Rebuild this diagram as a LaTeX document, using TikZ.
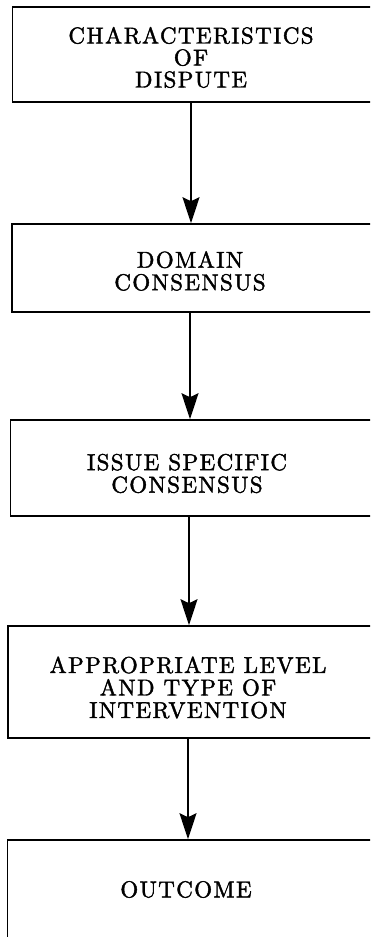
\documentclass[tikz,border=0pt]{standalone}
\usepackage{fontspec}
\newfontfamily\boxfont[LetterSpace=6, FakeBold=1.8]{lmroman10-regular.otf}
\usetikzlibrary{arrows.meta}
\tikzset{
  boxframe/.style={draw, line width=1.6pt, rectangle, inner sep=0pt},
  boxtext/.style={align=center, inner sep=0pt,
    font=\boxfont\fontsize{23}{22.5}\selectfont},
  flow/.style={line width=1.6pt, -{Stealth[length=26pt, width=17pt, inset=4pt]}}
}
\begin{document}
\begin{tikzpicture}[x=1pt, y=-1pt]
\useasboundingbox (0,0) rectangle (370,937);
\clip (0,0) rectangle (370,937);
% boxes (right side runs past the picture edge)
\node[boxframe, minimum width=367.5pt, minimum height=95pt] (box1) at ({(12.5+380)/2},{(7+102)/2}) {};
\node[boxframe, minimum width=368pt, minimum height=88pt] (box2) at ({(12+380)/2},{(224+312)/2}) {};
\node[boxframe, minimum width=369.5pt, minimum height=96pt] (box3) at ({(10.5+380)/2},{(420+516)/2}) {};
\node[boxframe, minimum width=372pt, minimum height=112pt] (box4) at ({(8+380)/2},{(626+738)/2}) {};
\node[boxframe, minimum width=372.5pt, minimum height=110pt] (box5) at ({(7.5+380)/2},{(840+950)/2}) {};
% texts
\node[boxtext, font=\boxfont\fontsize{23}{22}\selectfont] (t1) at (191,57.5) {CHARACTERISTICS\\OF\\DISPUTE};
\node[boxtext] (t2) at (190,271) {DOMAIN\\CONSENSUS};
\node[boxtext] (t3) at (187,473.5) {ISSUE SPECIFIC\\CONSENSUS};
\node[boxtext] (t4) at (188,687.5) {APPROPRIATE LEVEL\\AND TYPE OF\\INTERVENTION};
\node[boxtext] (t5) at (186,889.5) {OUTCOME};
% anchor points for arrows
\coordinate (a1) at (191,0);
\coordinate (a2) at (190,0);
\coordinate (a3) at (189,0);
\coordinate (a4) at (188,0);
\draw[flow] (a1 |- box1.south) -- (a1 |- box2.north);
\draw[flow] (a2 |- box2.south) -- (a2 |- box3.north);
\draw[flow] (a3 |- box3.south) -- (a3 |- box4.north);
\draw[flow] (a4 |- box4.south) -- (a4 |- box5.north);
\end{tikzpicture}
\end{document}
